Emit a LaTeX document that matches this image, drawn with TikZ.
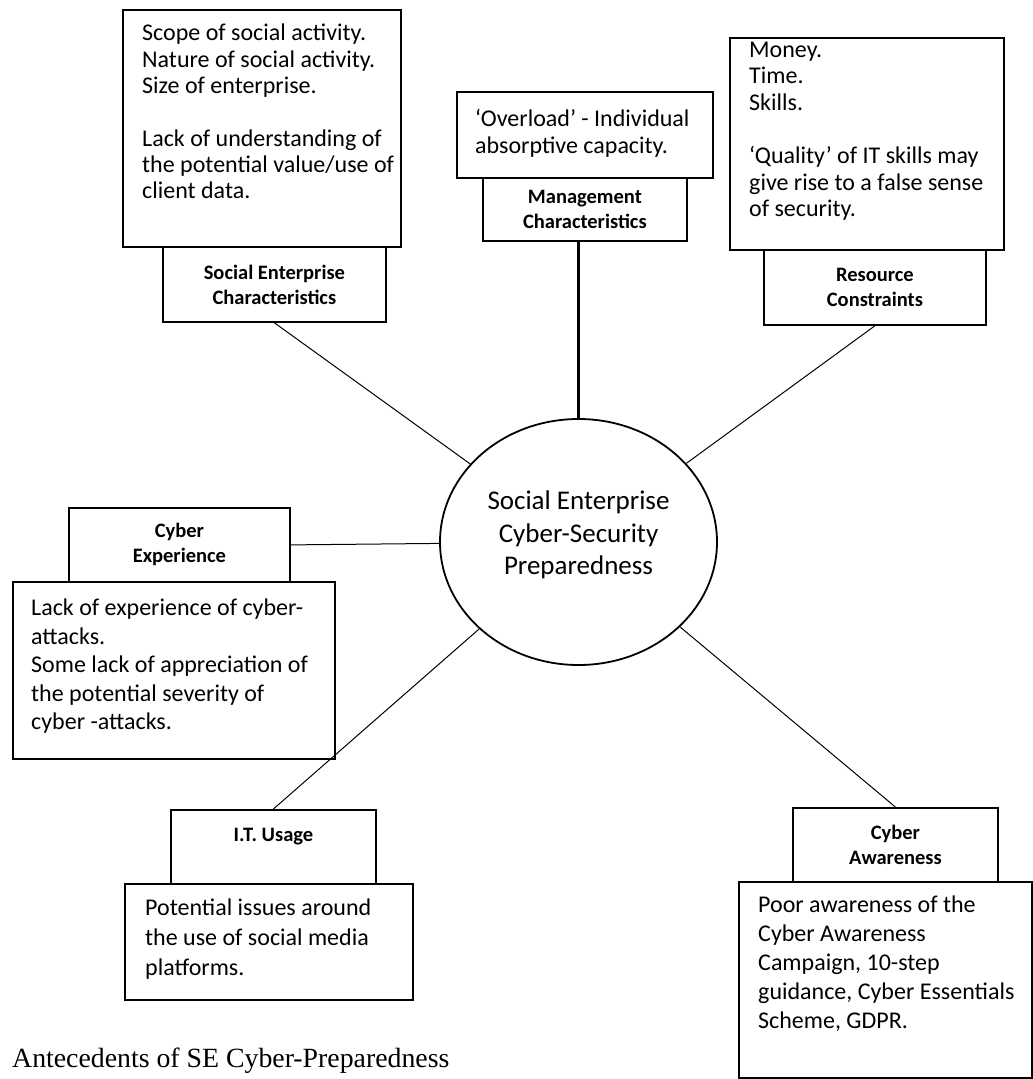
\documentclass[tikz,border=0pt]{standalone}
\usepackage{fontspec}
\setmainfont{Carlito}
\newfontfamily\captionfont{Liberation Serif}
\usepackage{tikz}
\usetikzlibrary{shapes.geometric}
\tikzset{frame/.style={rectangle,draw=black,line width=1.8pt,anchor=north west,inner sep=0pt}}

\begin{document}
\begin{tikzpicture}[x=1pt,y=-1pt]
  % some styles
  \tikzset{
    tag/.style={
      frame,
      align=center,
      font=\fontsize{20.5}{25}\bfseries
    }
  }
  \tikzset{
    body/.style={
      anchor=north west,
      inner sep=0pt,
      align=left,
      font=\fontsize{24}{29}\selectfont
    }
  }
  \tikzset{spoke/.style={draw=black,line width=1pt}}

\useasboundingbox (0,0) rectangle (1033,1079);

% centre
\node[ellipse,draw=black,line width=1.8pt,minimum width=277,minimum height=246] (core) at (578.5,542) {};
\node[anchor=north,inner sep=0pt,align=center,font=\fontsize{27}{32.5}\selectfont] (coreText) at (578.5,491)
  {Social Enterprise\\Cyber-Security\\Preparedness};

% social enterprise
\node[frame,minimum width=278,minimum height=237] (seBox) at (122,9) {};
\node[tag,minimum width=223,minimum height=75] (seLabel) at (162,246) {Social Enterprise\\Characteristics};
\node[body,font=\fontsize{24}{26.3}\selectfont] (seText) at (142,24) {Scope of social activity.\\Nature of social activity.\\Size of enterprise.\\[26.3pt]Lack of understanding of\\the potential value/use of\\client data.};

% management
\node[frame,minimum width=256,minimum height=86] (ovBox) at (456,91) {};
\node[tag,minimum width=204,minimum height=63] (mgmtLabel) at (482,177) {Management\\Characteristics};
\node[body,font=\fontsize{24}{27}\selectfont] (ovText) at (475,109) {‘Overload’ - Individual\\absorptive capacity.};

% resources
\node[frame,minimum width=274,minimum height=212] (moneyBox) at (729,37) {};
\node[tag,minimum width=222,minimum height=75] (resLabel) at (763,249) {Resource\\Constraints};
\node[body,font=\fontsize{24}{26.6}\selectfont] (moneyText) at (749,41.5) {Money.\\Time.\\Skills.\\[26.6pt]‘Quality’ of IT skills may\\give rise to a false sense\\of security.};

% experience
\node[tag,minimum width=221,minimum height=74] (cxLabel) at (68,507) {Cyber\\Experience};
\node[frame,minimum width=322,minimum height=177] (cxBox) at (12,581) {};
\node[body,font=\fontsize{24}{28.5}\selectfont] (cxText) at (31,599) {Lack of experience of cyber-\\attacks.\\Some lack of appreciation of\\the potential severity of\\cyber -attacks.};

% it usage
\node[tag,minimum width=205,minimum height=74] (itLabel) at (170,809) {I.T. Usage\\\mbox{}};
\node[frame,minimum width=288,minimum height=116] (itBox) at (124,883) {};
\node[body,font=\fontsize{24}{30}\selectfont] (itText) at (145,899) {Potential issues around\\the use of social media\\platforms.};

% awareness
\node[tag,minimum width=205,minimum height=74] (awLabel) at (792,807) {Cyber\\Awareness};
\node[frame,minimum width=293,minimum height=196] (awBox) at (738,881) {};
\node[body,font=\fontsize{24}{29}\selectfont] (awText) at (758,896) {Poor awareness of the\\Cyber Awareness\\Campaign, 10-step\\guidance, Cyber Essentials\\Scheme, GDPR.};

% spokes
\foreach \n/\a in {seLabel/south,resLabel/south,cxLabel/east,itLabel/north,awLabel/north}
  \draw[spoke] (\n.\a) -- (core);
\draw[line width=2.4pt] (core.north |- mgmtLabel.south) -- (core.north);

\node[anchor=base west,inner sep=0pt,font=\captionfont\fontsize{27.8}{33}\selectfont] (caption) at (12,1067)
  {Antecedents of SE Cyber-Preparedness};

\end{tikzpicture}
\end{document}
